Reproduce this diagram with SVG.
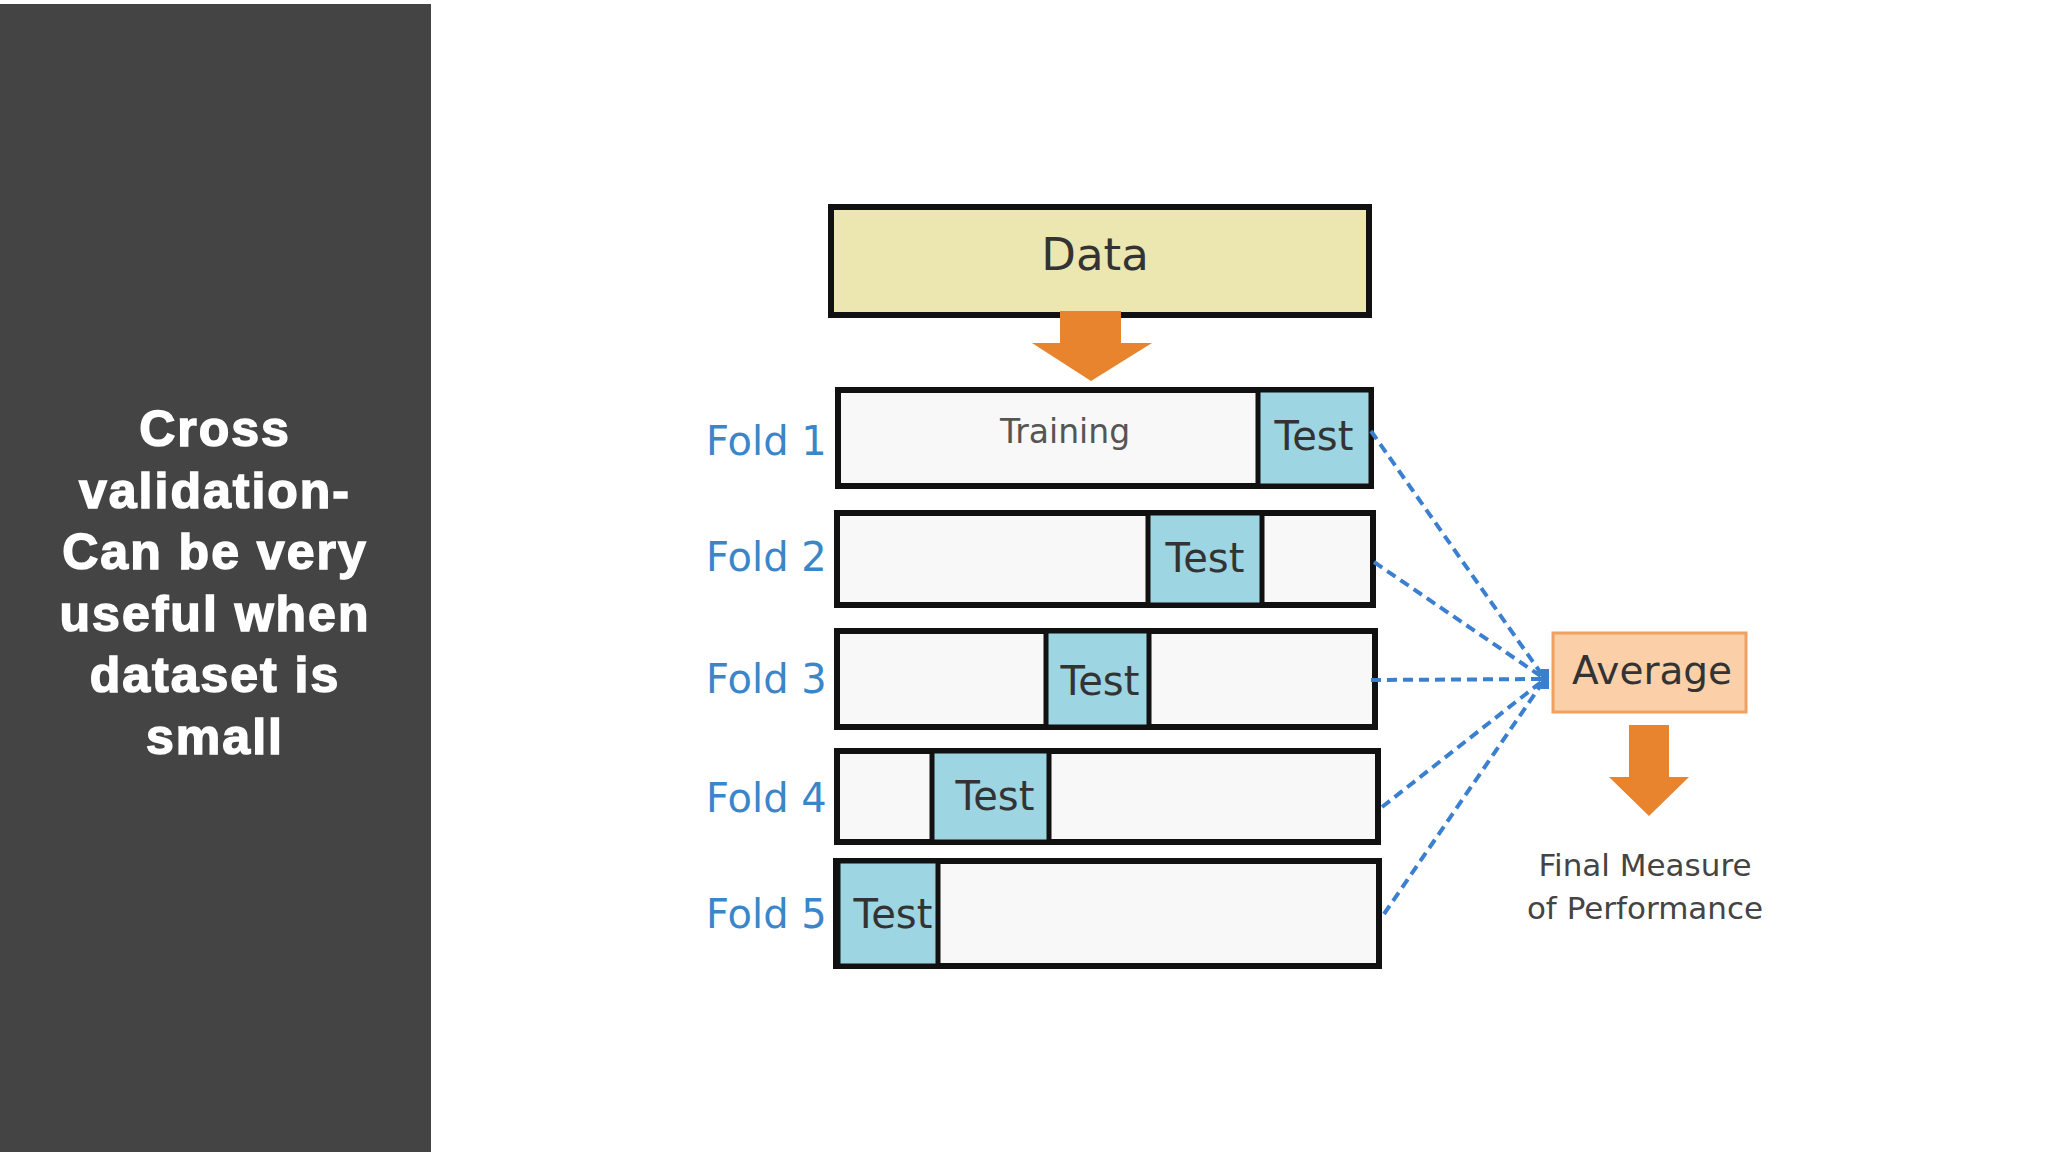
<svg xmlns="http://www.w3.org/2000/svg" width="2048" height="1152" viewBox="0 0 2048 1152">
<defs><style>
.row{fill:#f8f8f8;stroke:#111;stroke-width:6}
.test{fill:#9dd5e2;stroke:#111;stroke-width:5}
.fold{font-family:"DejaVu Sans",sans-serif;font-size:40px;fill:#3b86c8}
.t{font-family:"DejaVu Sans",sans-serif;font-size:40px;fill:#333;text-anchor:middle}
.side{font-family:"Liberation Sans",Arial,sans-serif;font-weight:bold;font-size:50px;letter-spacing:2px;fill:#fff;text-anchor:middle;stroke:#fff;stroke-width:1.5}
.dash{stroke:#3b7fd0;stroke-width:4;stroke-dasharray:10 6;fill:none}
.arr{fill:#e8832e}
</style></defs>
<rect width="2048" height="1152" fill="#fff"/>
<rect x="0" y="4" width="431" height="1148" fill="#444"/>
<g id="title">
<text class="side" x="215" y="446">Cross</text>
<text class="side" x="215" y="508">validation-</text>
<text class="side" x="215" y="569">Can be very</text>
<text class="side" x="215" y="631">useful when</text>
<text class="side" x="215" y="692">dataset is</text>
<text class="side" x="215" y="754">small</text>
</g>
<g id="data"><rect x="831" y="207" width="538" height="108" fill="#ece6b0" stroke="#111" stroke-width="6"/><text class="t" x="1095" y="270" style="font-size:45px">Data</text></g>
<g id="arrow1"><polygon class="arr" points="1060,311 1121,311 1121,343 1152,343 1091,381 1032,343 1060,343"/></g>
<g id="fold1"><text class="fold" x="706" y="455">Fold 1</text><rect class="row" x="838" y="390" width="533" height="96"/><rect class="test" x="1258" y="390" width="113" height="96"/><text class="t" x="1065" y="443" style="font-size:33px;fill:#555">Training</text><text class="t" x="1314" y="450">Test</text></g>
<g id="fold2"><text class="fold" x="706" y="571">Fold 2</text><rect class="row" x="837" y="513" width="536" height="92"/><rect class="test" x="1148" y="513" width="114" height="92"/><text class="t" x="1205" y="572">Test</text></g>
<g id="fold3"><text class="fold" x="706" y="693">Fold 3</text><rect class="row" x="837" y="631" width="538" height="96"/><rect class="test" x="1046" y="631" width="103" height="96"/><text class="t" x="1100" y="695">Test</text></g>
<g id="fold4"><text class="fold" x="706" y="812">Fold 4</text><rect class="row" x="837" y="751" width="541" height="91"/><rect class="test" x="932" y="751" width="117" height="91"/><text class="t" x="995" y="810">Test</text></g>
<g id="fold5"><text class="fold" x="706" y="928">Fold 5</text><rect class="row" x="836" y="861" width="543" height="105"/><rect class="test" x="838" y="861" width="100" height="105"/><text class="t" x="893" y="928">Test</text></g>
<g id="connectors">
<path class="dash" d="M1371 431L1545 679M1374 562L1545 679M1371 680L1545 679M1382 807L1545 679M1384 914L1545 679"/>
<rect x="1541" y="669" width="8" height="20" fill="#3b7fd0"/>
</g>
<g id="average"><rect x="1553" y="633" width="193" height="79" fill="#fbd0a8" stroke="#f0a060" stroke-width="3"/><text class="t" x="1652" y="684" style="font-size:39px">Average</text></g>
<g id="arrow2"><polygon class="arr" points="1629,725 1669,725 1669,777 1689,777 1649,816 1609,777 1629,777"/></g>
<g id="final"><text class="t" x="1645" y="876" style="font-size:31px;fill:#444">Final Measure</text><text class="t" x="1645" y="919" style="font-size:31px;fill:#444">of Performance</text></g>
</svg>
